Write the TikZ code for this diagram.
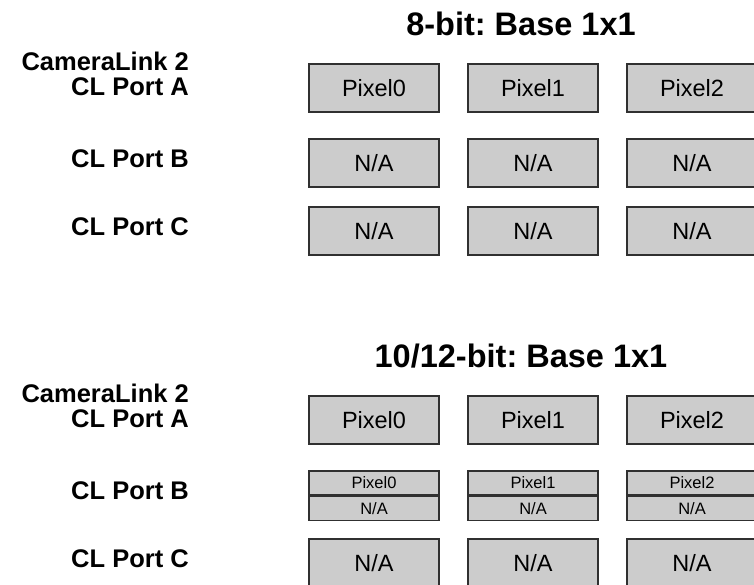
\documentclass[tikz,border=0pt]{standalone}
\usepackage{fontspec}
\setmainfont{Liberation Sans}
\usetikzlibrary{positioning}
\frenchspacing

\definecolor{boxgray}{HTML}{CCCCCC}
\definecolor{boxline}{HTML}{303030}

\tikzset{
  pixbox/.style={draw=boxline, fill=boxgray, line width=1.3pt, inner sep=0pt,
    minimum width=130pt, minimum height=48pt, font=\fontsize{23.5}{26}\selectfont},
  halfbox/.style={pixbox, minimum height=24pt, font=\fontsize{16.5}{18}\selectfont},
  portlabel/.style={font=\bfseries\fontsize{25.5}{28}\selectfont, anchor=east, inner sep=0pt},
  modetitle/.style={font=\bfseries\fontsize{32.5}{36}\selectfont, inner sep=0pt}
}

\begin{document}
\begin{tikzpicture}[x=1pt,y=-1pt]
        \useasboundingbox (0,0) rectangle (754,584);

        % Titles
        \node[modetitle] (title8) at (521,24) {8-bit: Base 1x1};
        \node[modetitle] (title10) at (521,356) {10/12-bit: Base 1x1};

        % Port labels, same for both modes
        \foreach \m/\dy in {8/0,10/332} {
            \node[portlabel] (porta\m) at (189,87+\dy) {CL Port A};
            \node[portlabel, above=7pt of porta\m.north east, anchor=south east] (cl\m) {CameraLink 2};
            \node[portlabel] (portb\m) at (189,159+\dy) {CL Port B};
            \node[portlabel] (portc\m) at (189,227+\dy) {CL Port C};
        }

        % 8-bit boxes
        \foreach \c/\x in {0/374,1/533,2/692} {
            \node[pixbox] (a8\c) at (\x,88) {Pixel\c};
            \node[pixbox] (b8\c) at (\x,163) {N/A};
            \node[pixbox] (c8\c) at (\x,231) {N/A};
        }

        % 10/12-bit boxes, port B split in two halves
        \foreach \c/\x in {0/374,1/533,2/692} {
            \node[pixbox] (a10\c) at (\x,420) {Pixel\c};
            \node[halfbox] (bhi\c) at (\x,483) {Pixel\c};
            \node[halfbox, below=0pt of bhi\c] (blo\c) {N/A};
            \node[pixbox] (c10\c) at (\x,563) {N/A};
        }
\end{tikzpicture}
\end{document}
